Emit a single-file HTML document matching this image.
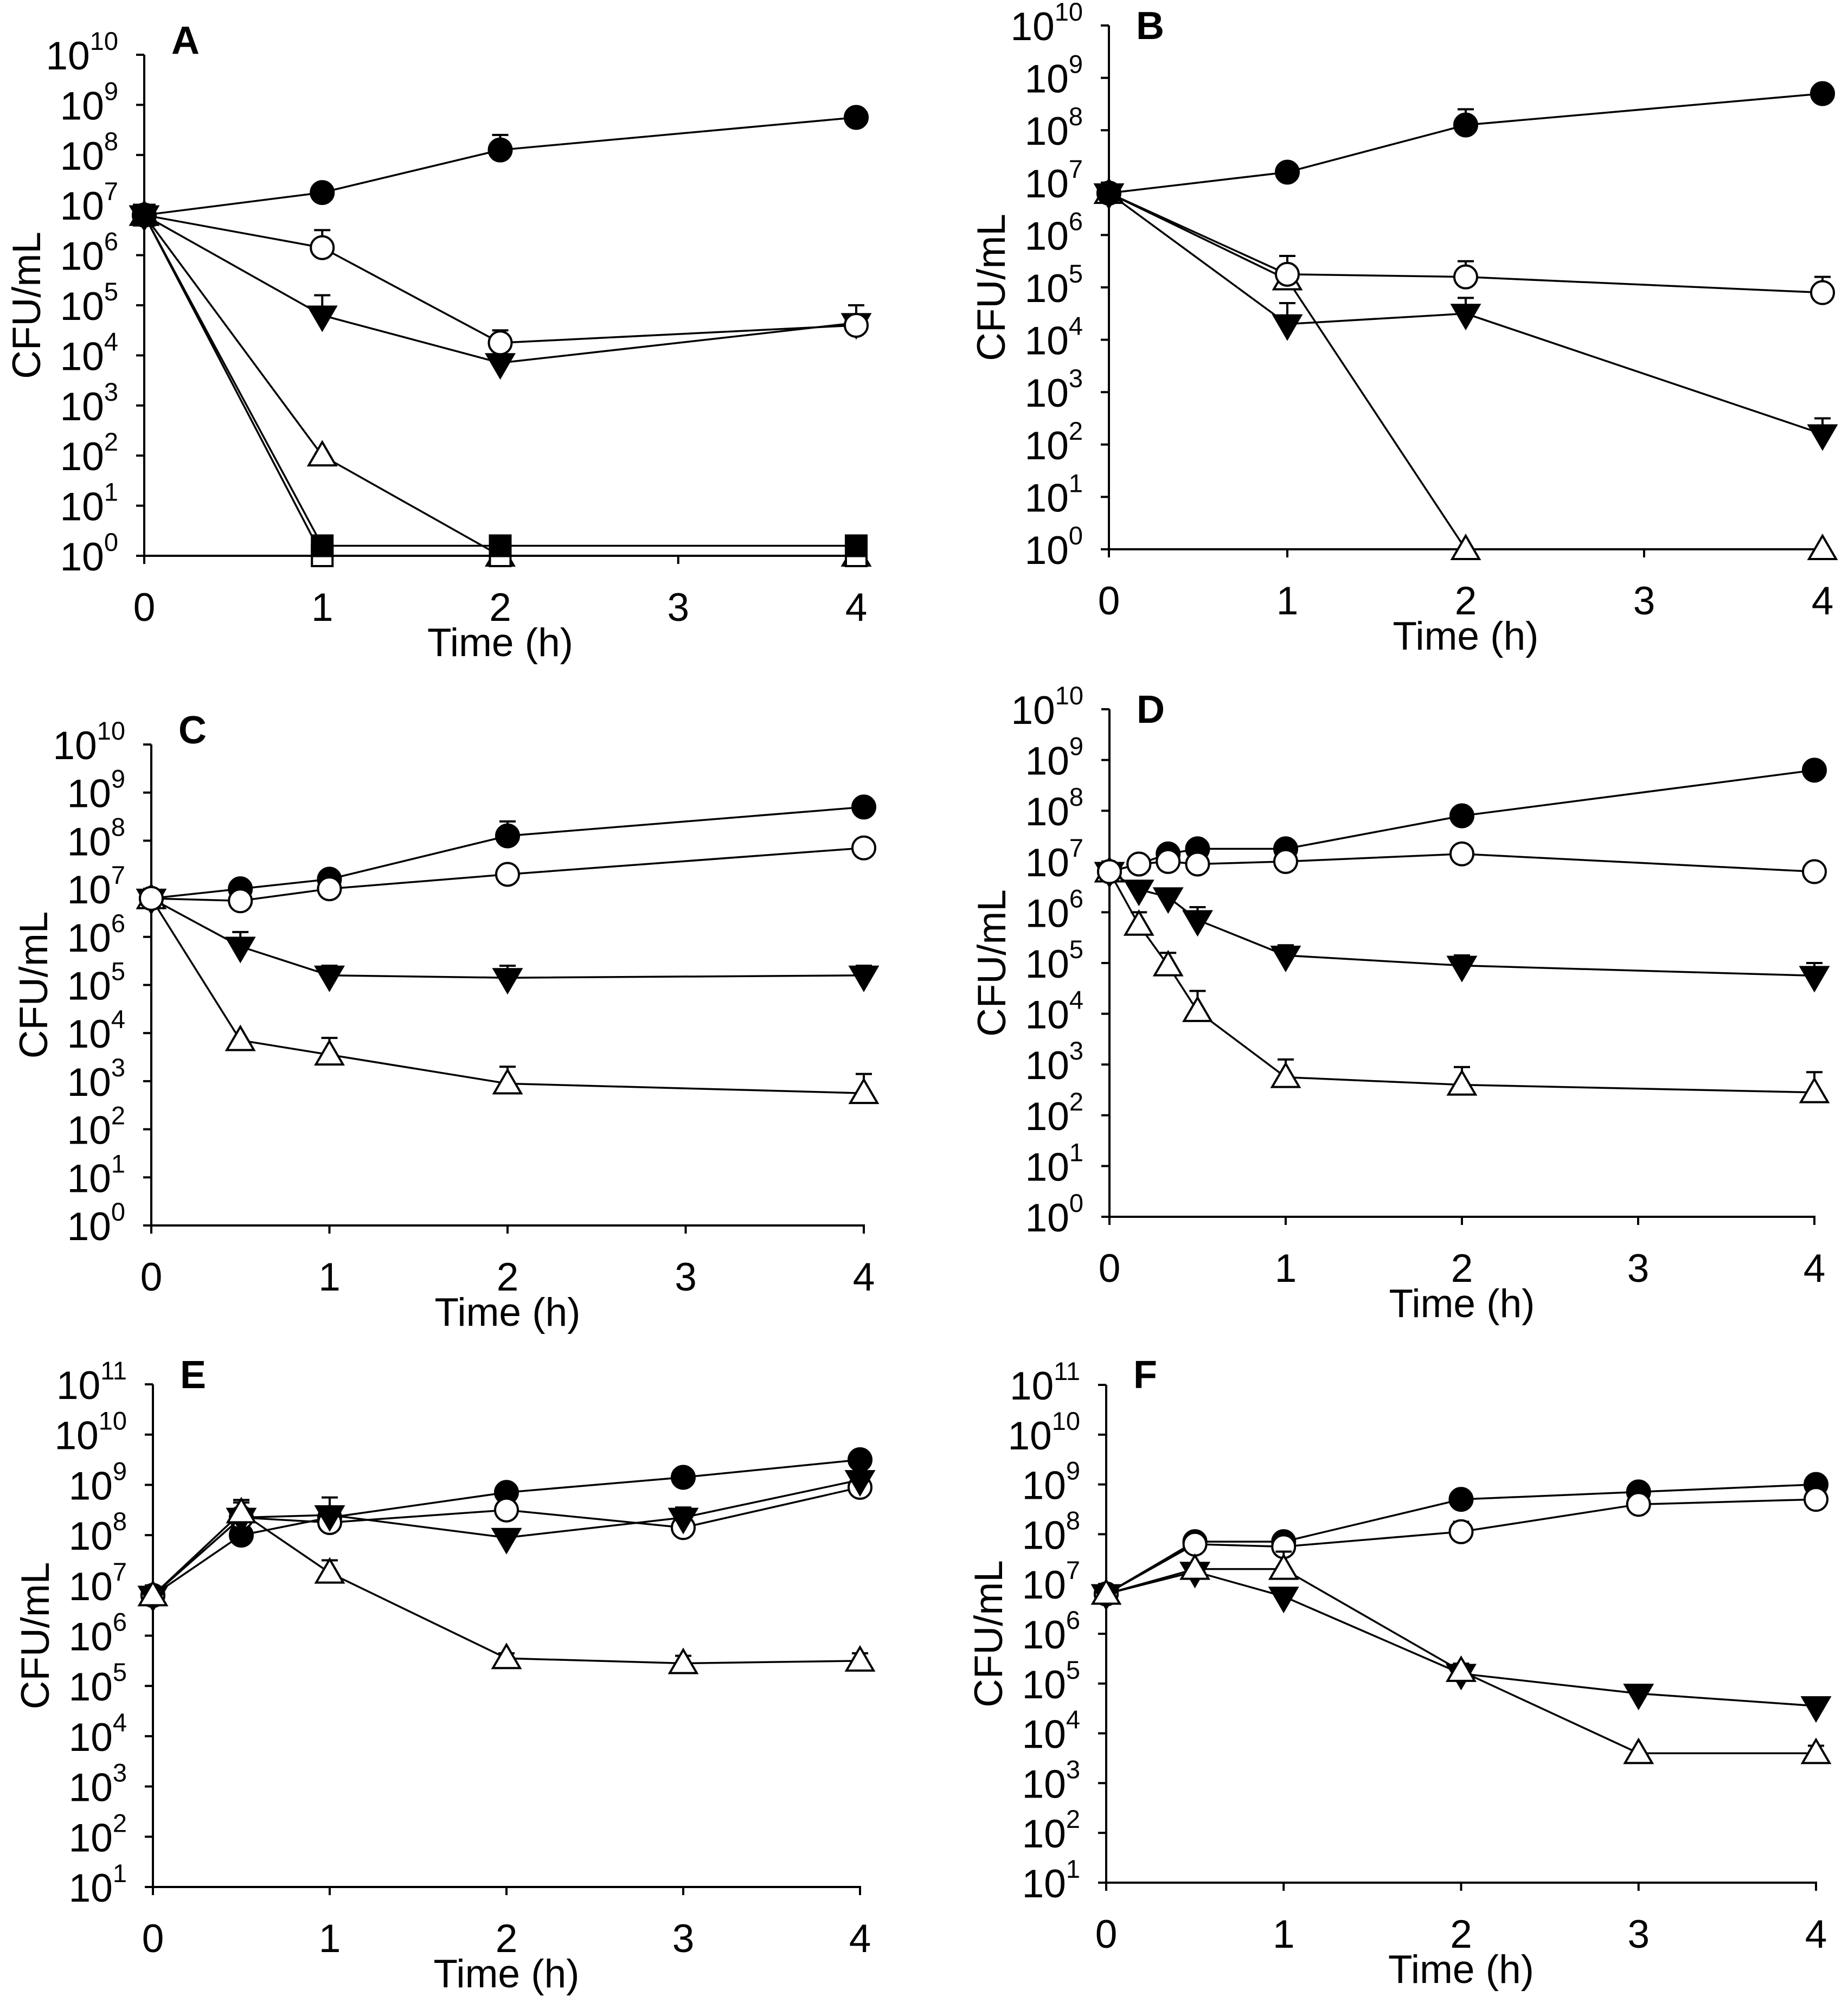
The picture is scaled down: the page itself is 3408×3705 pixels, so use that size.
<!DOCTYPE html>
<html><head><meta charset="utf-8"><style>
html,body{margin:0;padding:0;background:#fff;}
svg{display:block;}
text{font-family:"Liberation Sans Narrow","Liberation Sans",Arial,sans-serif;fill:#000;}
</style></head><body>
<svg id="fig" width="3408" height="3705" viewBox="0 0 3408 3705" xmlns="http://www.w3.org/2000/svg"></svg>
<script>
// ---- data (log10 CFU/mL) ----
const xA = [0,1,2,4];
const aFilledCircle = [6.8,7.25,8.1,8.75];
const aOpenCircle = [6.8,6.15,4.25,4.6];
const aFilledTri = [6.8,4.8,3.85,4.65];
const aOpenTri = [6.8,2.0,0,0];
const aFilledSq = [6.8,0.2,0.2,0.2];
const aOpenSq = [6.8,0,0,0];
const aErrFilledCircle = [null,null,8.4,8.9];
const aErrOpenCircle = [null,6.5,4.5,null];
const aErrFilledTri = [null,5.2,null,5.0];

const xB = [0,1,2,4];
const bFilledCircle = [6.8,7.2,8.1,8.7];
const bOpenCircle = [6.8,5.25,5.2,4.9];
const bFilledTri = [6.8,4.3,4.5,2.2];
const bOpenTri = [6.8,5.15,0,0];
const bErrFilledCircle = [null,null,8.4,null];
const bErrOpenCircle = [null,5.6,5.5,5.2];
const bErrFilledTri = [null,4.7,4.8,2.5];

const xC = [0,0.5,1,2,4];
const cFilledCircle = [6.8,7.0,7.2,8.1,8.7];
const cOpenCircle = [6.8,6.75,7.0,7.3,7.85];
const cFilledTri = [6.8,5.8,5.2,5.15,5.2];
const cOpenTri = [6.8,3.85,3.55,2.95,2.75];
const cErrFilledCircle = [null,null,null,8.4,8.8];
const cErrFilledTri = [null,6.1,5.4,5.4,5.4];
const cErrOpenTri = [null,null,3.9,3.3,3.15];

const xD = [0,0.167,0.333,0.5,1,2,4];
const dFilledCircle = [6.8,6.95,7.15,7.25,7.25,7.9,8.8];
const dOpenCircle = [6.8,6.95,7.0,6.95,7.0,7.15,6.8];
const dFilledTri = [6.8,6.45,6.3,5.85,5.15,4.95,4.75];
const dOpenTri = [6.8,5.75,4.95,4.05,2.75,2.6,2.45];
const dErrFilledCircle = [null,null,null,7.35,7.35,null,null];
const dErrFilledTri = [null,null,null,6.1,5.35,5.15,5.0];
const dErrOpenTri = [null,6.0,5.2,4.45,3.1,2.95,2.85];

const xE = [0,0.5,1,2,3,4];
const eFilledCircle = [6.8,8.0,8.35,8.85,9.15,9.5];
const eOpenCircle = [6.8,8.35,8.25,8.5,8.15,8.95];
const eFilledTri = [6.8,8.35,8.4,7.95,8.35,9.1];
const eOpenTri = [6.8,8.45,7.25,5.55,5.45,5.5];
const eErrFilledTri = [null,8.65,8.75,null,8.55,null];
const eErrOpenTri = [null,8.7,7.5,5.65,5.6,5.65];

const xF = [0,0.5,1,2,3,4];
const fFilledCircle = [6.8,7.85,7.85,8.7,8.85,9.0];
const fOpenCircle = [6.8,7.8,7.75,8.05,8.6,8.7];
const fFilledTri = [6.8,7.25,6.75,5.2,4.8,4.55];
const fOpenTri = [6.8,7.3,7.3,5.25,3.6,3.6];
const fErrOpenCircle = [null,null,null,8.25,null,null];
const fErrFilledTri = [null,null,6.9,null,null,4.7];
const fErrOpenTri = [null,null,7.65,5.4,null,3.75];

const xTicksInt = [0,1,2,3,4];

// ---- drawing ----
const NS = "http://www.w3.org/2000/svg";
const svg = document.getElementById('fig');
function mk(tag, attrs, parent){
  const e = document.createElementNS(NS, tag);
  for (const k in attrs) e.setAttribute(k, attrs[k]);
  (parent||svg).appendChild(e);
  return e;
}

const panels = [
  {id:'a', letter:'A', x0:266, x1:1579, yTop:101, yBot:1025, dMin:0, dMax:10, xs:xA, ly:99,
   series:[['open-triangle',aOpenTri,null],['open-square',aOpenSq,null],['filled-square',aFilledSq,null],['filled-triangle',aFilledTri,aErrFilledTri],['open-circle',aOpenCircle,aErrOpenCircle],['filled-circle',aFilledCircle,aErrFilledCircle]]},
  {id:'b', letter:'B', x0:2045, x1:3361, yTop:47, yBot:1013, dMin:0, dMax:10, xs:xB, ly:72,
   series:[['open-triangle',bOpenTri,null],['filled-triangle',bFilledTri,bErrFilledTri],['open-circle',bOpenCircle,bErrOpenCircle],['filled-circle',bFilledCircle,bErrFilledCircle]]},
  {id:'c', letter:'C', x0:279, x1:1593, yTop:1373, yBot:2260, dMin:0, dMax:10, xs:xC, ly:1371,
   series:[['open-triangle',cOpenTri,cErrOpenTri],['filled-triangle',cFilledTri,cErrFilledTri],['filled-circle',cFilledCircle,cErrFilledCircle],['open-circle',cOpenCircle,null]]},
  {id:'d', letter:'D', x0:2046, x1:3346, yTop:1308, yBot:2244, dMin:0, dMax:10, xs:xD, ly:1333,
   series:[['open-triangle',dOpenTri,dErrOpenTri],['filled-triangle',dFilledTri,dErrFilledTri],['filled-circle',dFilledCircle,dErrFilledCircle],['open-circle',dOpenCircle,null]]},
  {id:'e', letter:'E', x0:282, x1:1586, yTop:2553, yBot:3480, dMin:1, dMax:11, xs:xE, ly:2560,
   series:[['filled-circle',eFilledCircle,null],['open-circle',eOpenCircle,null],['filled-triangle',eFilledTri,eErrFilledTri],['open-triangle',eOpenTri,eErrOpenTri]]},
  {id:'f', letter:'F', x0:2040, x1:3349, yTop:2554, yBot:3472, dMin:1, dMax:11, xs:xF, ly:2560,
   series:[['filled-circle',fFilledCircle,null],['open-circle',fOpenCircle,fErrOpenCircle],['filled-triangle',fFilledTri,fErrFilledTri],['open-triangle',fOpenTri,fErrOpenTri]]}
];

function drawMarker(g, type, cx, cy){
  const sw = 4;
  let e;
  if (type==='filled-circle' || type==='open-circle'){
    e = mk('circle',{cx:cx,cy:cy,r:21,fill:type==='filled-circle'?'#000':'#fff',stroke:'#000','stroke-width':sw},g);
  } else if (type==='filled-triangle'){
    e = mk('polygon',{points:`${cx-25},${cy-16} ${cx+25},${cy-16} ${cx},${cy+27}`,fill:'#000',stroke:'#000','stroke-width':sw},g);
  } else if (type==='open-triangle'){
    e = mk('polygon',{points:`${cx-25},${cy+18} ${cx+25},${cy+18} ${cx},${cy-25}`,fill:'#fff',stroke:'#000','stroke-width':sw},g);
  } else {
    e = mk('rect',{x:cx-19,y:cy-19,width:38,height:38,fill:type==='filled-square'?'#000':'#fff',stroke:'#000','stroke-width':sw},g);
  }
  return e;
}

panels.forEach(p=>{
  const g = mk('g',{});
  
  
  const sx = v => p.x0 + (v/4)*(p.x1-p.x0);
  const sy = d => p.yBot - (d-p.dMin)/(p.dMax-p.dMin)*(p.yBot-p.yTop);

  const ax = mk('g',{},g);
  
  
  mk('line',{x1:p.x0,y1:p.yTop,x2:p.x0,y2:p.yBot+15,stroke:'#000','stroke-width':4},ax);
  mk('line',{x1:p.x0-2,y1:p.yBot,x2:p.x1+2,y2:p.yBot,stroke:'#000','stroke-width':4},ax);
  for (let d=p.dMin; d<=p.dMax; d++){
    const y = sy(d);
    mk('line',{x1:p.x0-15,y1:y,x2:p.x0,y2:y,stroke:'#000','stroke-width':4},ax);
    const t = mk('text',{x:p.x0-48,y:y+27,'text-anchor':'end','font-size':73},ax);
    
    
    t.appendChild(document.createTextNode('10'));
    const s = mk('tspan',{dy:-36,'font-size':47},t);
    s.textContent = String(d);
  }
  xTicksInt.forEach(v=>{
    const x = sx(v);
    mk('line',{x1:x,y1:p.yBot,x2:x,y2:p.yBot+15,stroke:'#000','stroke-width':4},ax);
    const t = mk('text',{x:x,y:p.yBot+120,'text-anchor':'middle','font-size':73},ax);
    
    
    t.textContent = String(v);
  });
  const xt = mk('text',{x:(p.x0+p.x1)/2,y:p.yBot+185,'text-anchor':'middle','font-size':73},ax);
  
  
  xt.textContent = 'Time (h)';
  const yc = (p.yTop+p.yBot)/2;
  const yx = p.x0-192;
  const yt = mk('text',{x:yx,y:yc,'text-anchor':'middle','font-size':73,transform:`rotate(-90 ${yx} ${yc})`},ax);
  
  
  yt.textContent = 'CFU/mL';
  const lt = mk('text',{x:p.x0+50,y:p.ly,'font-size':72,'font-weight':'bold','font-family':'"Liberation Sans",Arial,sans-serif'},g);
  
  
  lt.textContent = p.letter;

  p.series.forEach(([type, vals, errs])=>{
    const sg = mk('g',{},g);
    
    
    const pts = vals.map((v,i)=>`${sx(p.xs[i])},${sy(v)}`).join(' ');
    const pl = mk('polyline',{points:pts,fill:'none',stroke:'#000','stroke-width':3.5},sg);
    
    
    if (errs){
      errs.forEach((e,i)=>{
        if (e==null) return;
        const x = sx(p.xs[i]);
        mk('line',{x1:x,y1:sy(vals[i]),x2:x,y2:sy(e),stroke:'#000','stroke-width':4},sg);
        mk('line',{x1:x-15,y1:sy(e),x2:x+15,y2:sy(e),stroke:'#000','stroke-width':4},sg);
      });
    }
    vals.forEach((v,i)=>{
      const m = drawMarker(sg, type, sx(p.xs[i]), sy(v));
      
      
    });
  });
});
</script>
</body></html>
